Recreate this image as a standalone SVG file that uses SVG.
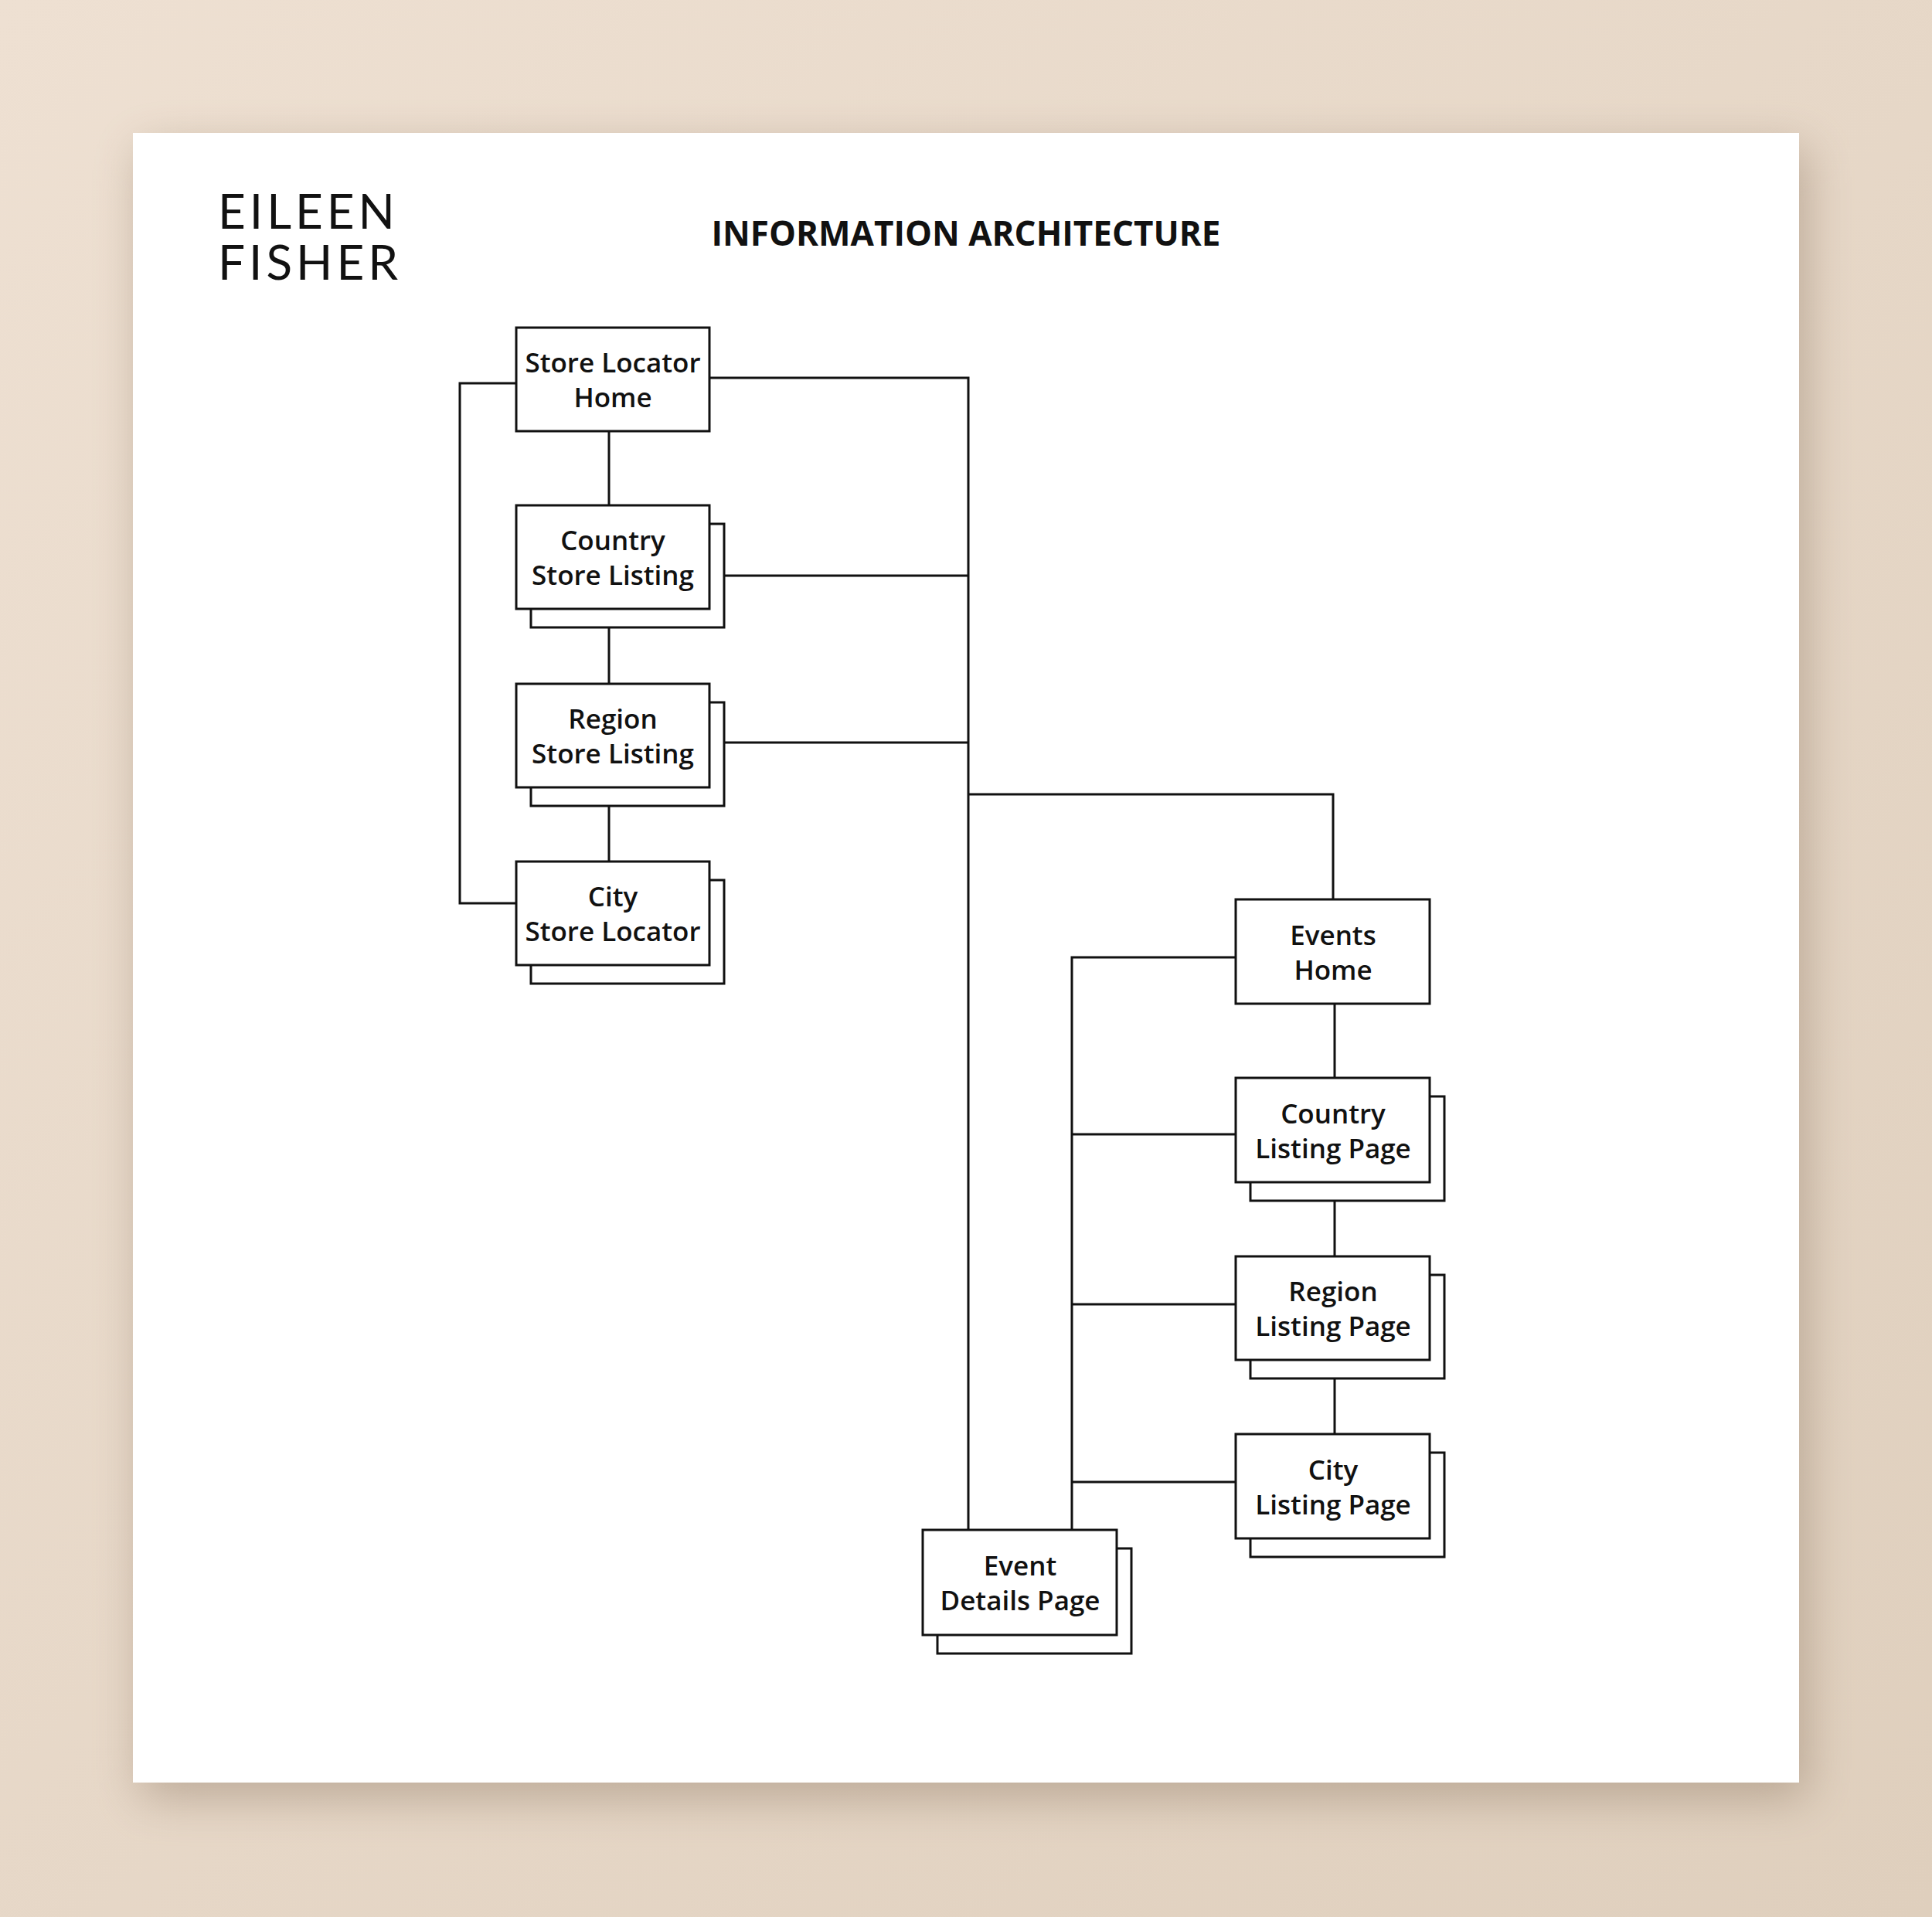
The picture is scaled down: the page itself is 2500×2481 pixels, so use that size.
<svg xmlns="http://www.w3.org/2000/svg" width="2500" height="2481" viewBox="0 0 2500 2481">
<defs>
<linearGradient id="bg" x1="0" y1="0" x2="1" y2="1"><stop offset="0" stop-color="#eee0d2"/><stop offset="1" stop-color="#dfcfbd"/></linearGradient>
<filter id="sh" x="-10%" y="-10%" width="120%" height="120%"><feGaussianBlur stdDeviation="30"/></filter>
<style>
.b{fill:#fff;stroke:#111;stroke-width:3}
.c{fill:none;stroke:#111;stroke-width:3}
.t{font-family:"Open Sans","Liberation Sans",sans-serif;font-weight:600;font-size:35px;fill:#111;text-anchor:middle}
</style>
</defs>
<rect width="2500" height="2481" fill="url(#bg)"/>
<rect x="182" y="192" width="2156" height="2135" fill="#8a7560" opacity="0.45" filter="url(#sh)"/>
<rect x="172" y="172" width="2156" height="2135" fill="#fff"/>
<g id="logo" font-family="Lato,'Liberation Sans',sans-serif" font-size="62" fill="#111" letter-spacing="5">
<text x="282" y="296">EILEEN</text><text x="282" y="362">FISHER</text></g>
<text id="title" x="1250" y="318" font-family="'Open Sans','Liberation Sans',sans-serif" font-weight="700" font-size="44" text-anchor="middle" fill="#111">INFORMATION ARCHITECTURE</text>
<g id="connectors" class="c">
<path class="c" d="M668 496H595V1169H668"/>
<path class="c" d="M788 558V654M788 788V885M788 1019V1115"/>
<path class="c" d="M918 489H1253V1980M938 745H1253M938 961H1253"/>
<path class="c" d="M1253 1028H1725V1164"/>
<path class="c" d="M1599 1239H1387V1980M1387 1468H1599M1387 1688H1599M1387 1918H1599"/>
<path class="c" d="M1727 1299V1395M1727 1530V1626M1727 1760V1856"/>
</g>
<g id="n1"><rect class="b" x="668" y="424" width="250" height="134"/><text class="t" x="793" y="482">Store Locator</text><text class="t" x="793" y="527">Home</text></g>
<g id="n2"><rect class="b" x="687" y="678" width="250" height="134"/><rect class="b" x="668" y="654" width="250" height="134"/><text class="t" x="793" y="712">Country</text><text class="t" x="793" y="757">Store Listing</text></g>
<g id="n3"><rect class="b" x="687" y="909" width="250" height="134"/><rect class="b" x="668" y="885" width="250" height="134"/><text class="t" x="793" y="943">Region</text><text class="t" x="793" y="988">Store Listing</text></g>
<g id="n4"><rect class="b" x="687" y="1139" width="250" height="134"/><rect class="b" x="668" y="1115" width="250" height="134"/><text class="t" x="793" y="1173">City</text><text class="t" x="793" y="1218">Store Locator</text></g>
<g id="n5"><rect class="b" x="1599" y="1164" width="251" height="135"/><text class="t" x="1725" y="1223">Events</text><text class="t" x="1725" y="1268">Home</text></g>
<g id="n6"><rect class="b" x="1618" y="1419" width="251" height="135"/><rect class="b" x="1599" y="1395" width="251" height="135"/><text class="t" x="1725" y="1454">Country</text><text class="t" x="1725" y="1499">Listing Page</text></g>
<g id="n7"><rect class="b" x="1618" y="1650" width="251" height="134"/><rect class="b" x="1599" y="1626" width="251" height="134"/><text class="t" x="1725" y="1684">Region</text><text class="t" x="1725" y="1729">Listing Page</text></g>
<g id="n8"><rect class="b" x="1618" y="1880" width="251" height="135"/><rect class="b" x="1599" y="1856" width="251" height="135"/><text class="t" x="1725" y="1915">City</text><text class="t" x="1725" y="1960">Listing Page</text></g>
<g id="n9"><rect class="b" x="1213" y="2004" width="251" height="136"/><rect class="b" x="1194" y="1980" width="251" height="136"/><text class="t" x="1320" y="2039">Event</text><text class="t" x="1320" y="2084">Details Page</text></g>
</svg>
